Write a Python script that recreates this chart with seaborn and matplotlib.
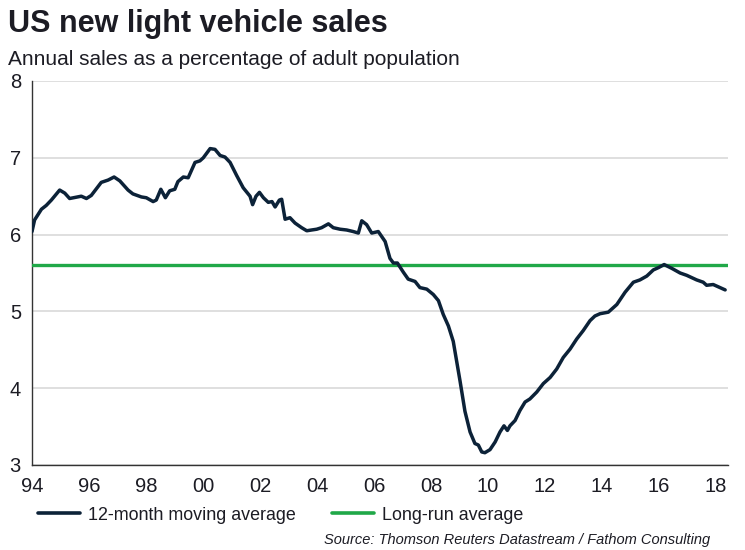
import matplotlib
matplotlib.use("Agg")
import matplotlib.pyplot as plt
import seaborn as sns
import numpy as np
import pandas as pd
from matplotlib.ticker import MultipleLocator, FixedLocator
from matplotlib.lines import Line2D

# ---- data ----
dates = [1994.00, 1994.09, 1994.33, 1994.50, 1994.68, 1994.97, 1995.15, 1995.32,
         1995.73, 1995.91, 1996.08, 1996.43, 1996.67, 1996.88, 1997.08, 1997.37,
         1997.54, 1997.84, 1998.01, 1998.25, 1998.36, 1998.52, 1998.68, 1998.83,
         1999.01, 1999.12, 1999.31, 1999.48, 1999.72, 1999.89, 2000.01, 2000.25,
         2000.42, 2000.60, 2000.77, 2000.95, 2001.18, 2001.41, 2001.65, 2001.74,
         2001.86, 2001.98, 2002.12, 2002.29, 2002.42, 2002.53, 2002.68, 2002.76,
         2002.88, 2003.05, 2003.23, 2003.46, 2003.64, 2003.81, 2003.99, 2004.16,
         2004.40, 2004.57, 2004.81, 2005.04, 2005.27, 2005.45, 2005.57, 2005.74,
         2005.92, 2006.15, 2006.39, 2006.56, 2006.68, 2006.82, 2007.03, 2007.20,
         2007.44, 2007.61, 2007.85, 2008.08, 2008.26, 2008.43, 2008.61, 2008.78,
         2008.90, 2009.02, 2009.19, 2009.37, 2009.54, 2009.66, 2009.78, 2009.89,
         2010.07, 2010.25, 2010.42, 2010.56, 2010.68, 2010.77, 2010.95, 2011.12,
         2011.30, 2011.47, 2011.71, 2011.94, 2012.18, 2012.41, 2012.64, 2012.88,
         2013.11, 2013.34, 2013.58, 2013.75, 2013.93, 2014.22, 2014.52, 2014.81,
         2015.10, 2015.33, 2015.57, 2015.80, 2015.98, 2016.18, 2016.45, 2016.74,
         2016.97, 2017.32, 2017.55, 2017.67, 2017.90, 2018.14, 2018.32]
sales_ma = [6.04, 6.19, 6.33, 6.38, 6.45, 6.58, 6.54, 6.47,
            6.50, 6.47, 6.51, 6.68, 6.71, 6.75, 6.70, 6.58,
            6.53, 6.49, 6.48, 6.43, 6.45, 6.59, 6.48, 6.57,
            6.59, 6.69, 6.75, 6.74, 6.94, 6.96, 7.00, 7.12,
            7.11, 7.03, 7.01, 6.94, 6.77, 6.61, 6.50, 6.39,
            6.50, 6.55, 6.48, 6.42, 6.43, 6.36, 6.45, 6.46,
            6.20, 6.22, 6.15, 6.09, 6.05, 6.06, 6.07, 6.09,
            6.14, 6.09, 6.07, 6.06, 6.04, 6.02, 6.18, 6.13,
            6.02, 6.04, 5.91, 5.69, 5.63, 5.63, 5.51, 5.42,
            5.39, 5.31, 5.29, 5.22, 5.14, 4.96, 4.81, 4.61,
            4.35, 4.09, 3.70, 3.43, 3.28, 3.26, 3.17, 3.16,
            3.20, 3.30, 3.43, 3.51, 3.45, 3.51, 3.58, 3.71,
            3.82, 3.86, 3.95, 4.06, 4.14, 4.25, 4.40, 4.51,
            4.64, 4.75, 4.88, 4.94, 4.97, 4.99, 5.09, 5.25,
            5.38, 5.41, 5.46, 5.54, 5.57, 5.61, 5.56, 5.50,
            5.47, 5.41, 5.38, 5.34, 5.35, 5.31, 5.28]
long_run_avg = 5.61

x_tick_years = [1994, 1996, 1998, 2000, 2002, 2004, 2006, 2008, 2010, 2012, 2014, 2016, 2018]
x_tick_labels = ["94", "96", "98", "00", "02", "04", "06", "08", "10", "12", "14", "16", "18"]
y_ticks = [3, 4, 5, 6, 7, 8]

series_labels = ["12-month moving average", "Long-run average"]
title = "US new light vehicle sales"
subtitle = "Annual sales as a percentage of adult population"
source = "Source: Thomson Reuters Datastream / Fathom Consulting"

# ---- style ----
sns.set_style("white")
plt.rcParams["font.family"] = ["Liberation Sans", "DejaVu Sans"]

NAVY = "#0c2238"
GREEN = "#20a848"
TEXT = "#1c1c24"

df = pd.DataFrame({"date": dates, "value": sales_ma})

fig = plt.figure(figsize=(7.45, 5.5), dpi=100)
ax = fig.add_axes([32 / 745, 1 - 465 / 550, (728 - 32) / 745, (465 - 81) / 550])

ax.axhline(long_run_avg, color=GREEN, lw=2.4, zorder=3)
sns.lineplot(data=df, x="date", y="value", ax=ax, color=NAVY, lw=2.5,
             zorder=4, solid_joinstyle="round", solid_capstyle="round")

ax.set_xlim(1994.0, 2018.42)
ax.set_ylim(3, 8)
ax.set_xlabel("")
ax.set_ylabel("")

ax.xaxis.set_major_locator(FixedLocator(x_tick_years))
ax.set_xticklabels(x_tick_labels)
ax.xaxis.set_minor_locator(MultipleLocator(1 / 6))
ax.yaxis.set_major_locator(FixedLocator(y_ticks))
ax.yaxis.set_minor_locator(MultipleLocator(0.2))

ax.yaxis.grid(True, which="major", color="#d9d9d9", lw=1.2, zorder=0)
ax.xaxis.grid(False)

for s in ["top", "right"]:
    ax.spines[s].set_visible(False)
for s in ["left", "bottom"]:
    ax.spines[s].set_color("#333333")
    ax.spines[s].set_linewidth(1.0)

ax.tick_params(axis="x", which="major", direction="in", length=5, width=1,
               color="#333333", labelsize=14.5, labelcolor=TEXT, pad=9)
ax.tick_params(axis="x", which="minor", direction="in", length=3, width=0.8,
               color="#333333")
ax.tick_params(axis="y", which="major", direction="out", length=4, width=1,
               color="#333333", labelsize=14.5, labelcolor=TEXT, pad=4)
ax.tick_params(axis="y", which="minor", direction="out", length=3, width=0.8,
               color="#333333")

# titles
fig.text(8 / 745, 1 - 32 / 550, title, fontsize=22, fontweight="bold",
         color=TEXT, ha="left", va="baseline")
fig.text(8 / 745, 1 - 65 / 550, subtitle, fontsize=15, color=TEXT,
         ha="left", va="baseline")

# legend
handles = [Line2D([], [], color=NAVY, lw=2.6), Line2D([], [], color=GREEN, lw=2.6)]
fig.legend(handles, series_labels, loc="center left",
           bbox_to_anchor=(38 / 745, 1 - 515 / 550), ncol=2, frameon=False,
           fontsize=12.9, handlelength=2.35, handletextpad=0.45,
           columnspacing=2.0, borderpad=0, borderaxespad=0,
           labelcolor=TEXT)

fig.text(710 / 745, 1 - 544 / 550, source, fontsize=10.5, style="italic",
         color=TEXT, ha="right", va="baseline")

fig.savefig("out.png", dpi=100)
